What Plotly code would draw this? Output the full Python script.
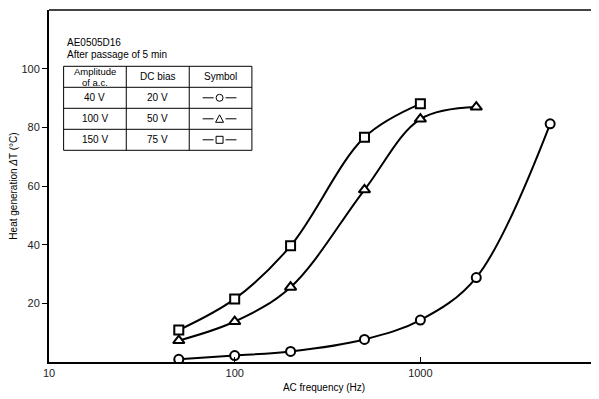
import plotly.graph_objects as go

freq_circle = [50, 100, 200, 500, 1000, 2000, 5000]
dt_circle = [0.9, 2.2, 3.6, 7.7, 14.3, 28.8, 81.2]
freq_triangle = [50, 100, 200, 500, 1000, 2000]
dt_triangle = [7.3, 13.8, 25.5, 58.7, 82.8, 86.9]
freq_square = [50, 100, 200, 500, 1000]
dt_square = [10.9, 21.5, 39.6, 76.6, 88.0]

x_ticks = [10, 100, 1000]
y_ticks = [20, 40, 60, 80, 100]

table_header = ["Amplitude", "DC bias", "Symbol"]
table_header2 = "of a.c."
table_amp = ["40 V", "100 V", "150 V"]
table_dc = ["20 V", "50 V", "75 V"]
table_sym = ["circle", "triangle", "square"]

# page body has an 8px margin: screen coords = figure coords + 8
OFF = 8
W, H = 599 - OFF, 399 - OFF
SL, ST, SB = 46, 10, 362          # plot edges in screen px
ML, MT = SL - OFF, ST - OFF
MR = 0
MB = H - (SB - OFF)
PW, PH = W - ML - MR, H - MT - MB
FONT = "Liberation Sans, Arial, Helvetica, sans-serif"


def px(x):
    return (x - SL) / PW


def py(y):
    return (SB - y) / PH


fig = go.Figure()
series = [
    (freq_circle, dt_circle, "circle"),
    (freq_triangle, dt_triangle, "triangle-up"),
    (freq_square, dt_square, "square"),
]
for xs, ys, sym in series:
    fig.add_trace(go.Scatter(
        x=xs, y=ys, mode="lines",
        line=dict(color="black", width=2, shape="spline", smoothing=1.0),
        showlegend=False, hoverinfo="skip"))
for xs, ys, sym in series:
    fig.add_trace(go.Scatter(
        x=xs, y=ys, mode="markers",
        marker=dict(symbol=sym, size=10 if sym == "triangle-up" else 9,
                    color="white", line=dict(color="black", width=2)),
        showlegend=False, hoverinfo="skip"))

shapes = []
annotations = []

# top border
shapes.append(dict(type="line", xref="paper", yref="paper", x0=0, x1=1, y0=1, y1=1,
                   line=dict(color="#444444", width=2)))

# table grid
tx = [60.7, 123.7, 187, 250]
ty = [66.3, 87.3, 108.3, 129.3, 150.3]
for xv in tx:
    shapes.append(dict(type="line", xref="paper", yref="paper", x0=px(xv), x1=px(xv),
                       y0=py(ty[0]), y1=py(ty[-1]), line=dict(color="black", width=1)))
for yv in ty:
    shapes.append(dict(type="line", xref="paper", yref="paper", x0=px(tx[0]), x1=px(tx[-1]),
                       y0=py(yv), y1=py(yv), line=dict(color="black", width=1)))


def ann(text, x, y, xanchor="center", size=10):
    annotations.append(dict(text=text, xref="paper", yref="paper", x=px(x), y=py(y),
                            xanchor=xanchor, yanchor="middle", showarrow=False,
                            font=dict(size=size, color="black", family=FONT)))


ann("AE0505D16", 62, 42, "left")
ann("After passage of 5 min", 62, 55, "left")

cx = [(tx[i] + tx[i + 1]) / 2 for i in range(3)]
cy = [(ty[i] + ty[i + 1]) / 2 for i in range(4)]
ann(table_header[0], cx[0], 71.5, size=9.5)
ann(table_header2, cx[0], 82.2, size=9.5)
ann(table_header[1], cx[1], cy[0])
ann(table_header[2], cx[2], cy[0])
for r in range(3):
    ann(table_amp[r], cx[0], cy[r + 1])
    ann(table_dc[r], cx[1], cy[r + 1])
    yc = cy[r + 1]
    sx = cx[2] - 1
    shapes.append(dict(type="line", xref="paper", yref="paper", x0=px(sx - 17), x1=px(sx - 6),
                       y0=py(yc), y1=py(yc), line=dict(color="black", width=1)))
    shapes.append(dict(type="line", xref="paper", yref="paper", x0=px(sx + 6), x1=px(sx + 17),
                       y0=py(yc), y1=py(yc), line=dict(color="black", width=1)))
    s = 3.5
    if table_sym[r] == "circle":
        shapes.append(dict(type="circle", xref="paper", yref="paper", x0=px(sx - s), x1=px(sx + s),
                           y0=py(yc + s), y1=py(yc - s), line=dict(color="black", width=1)))
    elif table_sym[r] == "square":
        shapes.append(dict(type="rect", xref="paper", yref="paper", x0=px(sx - s), x1=px(sx + s),
                           y0=py(yc + s), y1=py(yc - s), line=dict(color="black", width=1)))
    else:
        pth = "M {} {} L {} {} L {} {} Z".format(px(sx - 4), py(yc + 3.5), px(sx + 4), py(yc + 3.5),
                                                   px(sx), py(yc - 4))
        shapes.append(dict(type="path", xref="paper", yref="paper", path=pth,
                           line=dict(color="black", width=1)))

fig.update_layout(
    width=W, height=H,
    margin=dict(l=ML, r=MR, t=MT, b=MB, pad=0),
    paper_bgcolor="white", plot_bgcolor="white",
    font=dict(family=FONT, color="black", size=11),
    shapes=shapes, annotations=annotations,
    xaxis=dict(type="log", range=[1, 1 + PW / 186.7], tickvals=x_ticks,
               ticktext=[str(v) for v in x_ticks], ticks="inside", ticklen=5,
               tickcolor="black", showline=True, linecolor="black", linewidth=2,
               showgrid=False, zeroline=False, tickfont=dict(size=11, color="#222"),
               title=dict(text="AC frequency (Hz)", font=dict(size=10), standoff=6)),
    yaxis=dict(range=[0, 120], tickvals=y_ticks, ticks="outside", ticklen=5,
               tickcolor="black", showline=True, linecolor="black", linewidth=2,
               showgrid=False, zeroline=False, tickfont=dict(size=11, color="#222"),
               title=dict(text="Heat generation <i>Δ</i>T (°C)", font=dict(size=10), standoff=6)),
)

fig.write_html("out.html")
